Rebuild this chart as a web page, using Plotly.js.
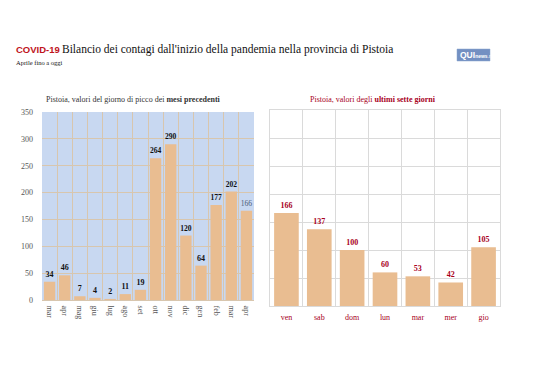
<!DOCTYPE html>
<html><head><meta charset="utf-8">
<script src="https://cdn.plot.ly/plotly-3.0.1.min.js"></script>
<style>html,body{margin:0;padding:0;background:#fff}#c{width:538px;height:380px}</style>
</head><body><div id="c"></div>
<script>
const mesi = ["mar","apr","mag","giu","lug","ago","set","ott","nov","dic","gen","feb","mar ","apr "];
const valoriMesi = [34,46,7,4,2,11,19,264,290,120,64,177,202,166];
const giorni = ["ven","sab","dom","lun","mar","mer","gio"];
const valoriGiorni = [166,137,100,60,53,42,105];
const yTicks = [0,50,100,150,200,250,300,350];

const W=538,H=380;
const px=(x)=>x/W, py=(y)=>1-y/H;
const serif="Liberation Serif, DejaVu Serif, serif";
const red="#a8001c";

const leftText = valoriMesi.map((v,i)=> i===valoriMesi.length-1 ? String(v) : "<b>"+v+"</b>");
const leftColors = valoriMesi.map((v,i)=> i===valoriMesi.length-1 ? "#4a5a78" : "#111");

const data = [
 {type:"bar", x:mesi, y:valoriMesi, xaxis:"x", yaxis:"y",
  marker:{color:"#e9bd91"}, text:leftText, textposition:"outside",
  textfont:{family:serif,size:8,color:leftColors}, cliponaxis:false, hoverinfo:"none"},
 {type:"bar", x:giorni, y:valoriGiorni, xaxis:"x2", yaxis:"y2",
  marker:{color:"#e9bd91"}, text:valoriGiorni.map(v=>"<b>"+v+"</b>"), textposition:"outside",
  textfont:{family:serif,size:8,color:red}, cliponaxis:false, hoverinfo:"none"}
];

const gridL="#d8c6ae";
const layout = {
 width:W, height:H, margin:{l:0,r:0,t:0,b:0}, showlegend:false,
 paper_bgcolor:"#fff", bargap:0.25,
 font:{family:serif,color:"#555"},
 xaxis:{domain:[px(42),px(254)], anchor:"y", type:"category", tickson:"boundaries",
   showgrid:true, gridcolor:gridL, gridwidth:1, ticks:"", tickangle:90,
   tickfont:{family:serif,size:8,color:"#555"}, ticklabelstandoff:3, zeroline:false,
   showline:true, linecolor:gridL},
 yaxis:{domain:[py(300),py(112)], anchor:"x", range:[0,350], tickvals:yTicks,
   showgrid:true, gridcolor:gridL, gridwidth:1, zeroline:false,
   tickfont:{family:serif,size:8,color:"#555"}, ticklabelstandoff:8, showline:false},
 xaxis2:{domain:[px(270),px(500)], anchor:"y2", type:"category", tickson:"boundaries",
   showgrid:true, gridcolor:"#dadada", ticks:"", showline:true, mirror:true, linecolor:"#dadada",
   tickfont:{family:serif,size:8,color:red}, ticklabelstandoff:3, zeroline:false},
 yaxis2:{domain:[py(306),py(110)], anchor:"x2", range:[0,350], tickvals:yTicks,
   showgrid:true, gridcolor:"#dadada", showticklabels:false, zeroline:false,
   showline:true, mirror:true, linecolor:"#dadada"},
 plot_bgcolor:"rgba(0,0,0,0)",
 shapes:[
  {type:"rect", xref:"x domain", yref:"y domain", x0:0,x1:1,y0:0,y1:1, fillcolor:"#c8d8f1", line:{width:0}, layer:"below"},
  {type:"rect", xref:"paper", yref:"paper", x0:px(457),x1:px(490),y0:py(61),y1:py(49), fillcolor:"#7390c2", line:{color:"#8aa4cf",width:0.5}}
 ],
 annotations:[
  {xref:"paper",yref:"paper",x:px(14),y:py(50),xanchor:"left",yanchor:"middle",showarrow:false,
   text:"<b>COVID-19</b>", font:{family:"Liberation Sans, Arial, sans-serif",size:9.5,color:"#c0141c"}},
  {xref:"paper",yref:"paper",x:px(60),y:py(50),xanchor:"left",yanchor:"middle",showarrow:false,
   text:"Bilancio dei contagi dall'inizio della pandemia nella provincia di Pistoia", font:{family:serif,size:11.5,color:"#111"}},
  {xref:"paper",yref:"paper",x:px(14),y:py(63),xanchor:"left",yanchor:"middle",showarrow:false,
   text:"Aprile fino a oggi", font:{family:serif,size:6.5,color:"#111"}},
  {xref:"paper",yref:"paper",x:px(44),y:py(99),xanchor:"left",yanchor:"middle",showarrow:false,
   text:"Pistoia, valori del giorno di picco dei <b>mesi precedenti</b>", font:{family:serif,size:8,color:"#333"}},
  {xref:"paper",yref:"paper",x:px(308),y:py(99),xanchor:"left",yanchor:"middle",showarrow:false,
   text:"Pistoia, valori degli <b>ultimi sette giorni</b>", font:{family:serif,size:8,color:red}},
  {xref:"paper",yref:"paper",x:px(457.5),y:py(55),xanchor:"left",yanchor:"middle",showarrow:false,
   text:"<b>QUI</b><span style='font-size:5px'><b>news</b>.net</span>", font:{family:"Liberation Sans, Arial, sans-serif",size:8.5,color:"#fff"}}
 ]
};
Plotly.newPlot("c", data, layout, {displayModeBar:false, staticPlot:true});
</script></body></html>
